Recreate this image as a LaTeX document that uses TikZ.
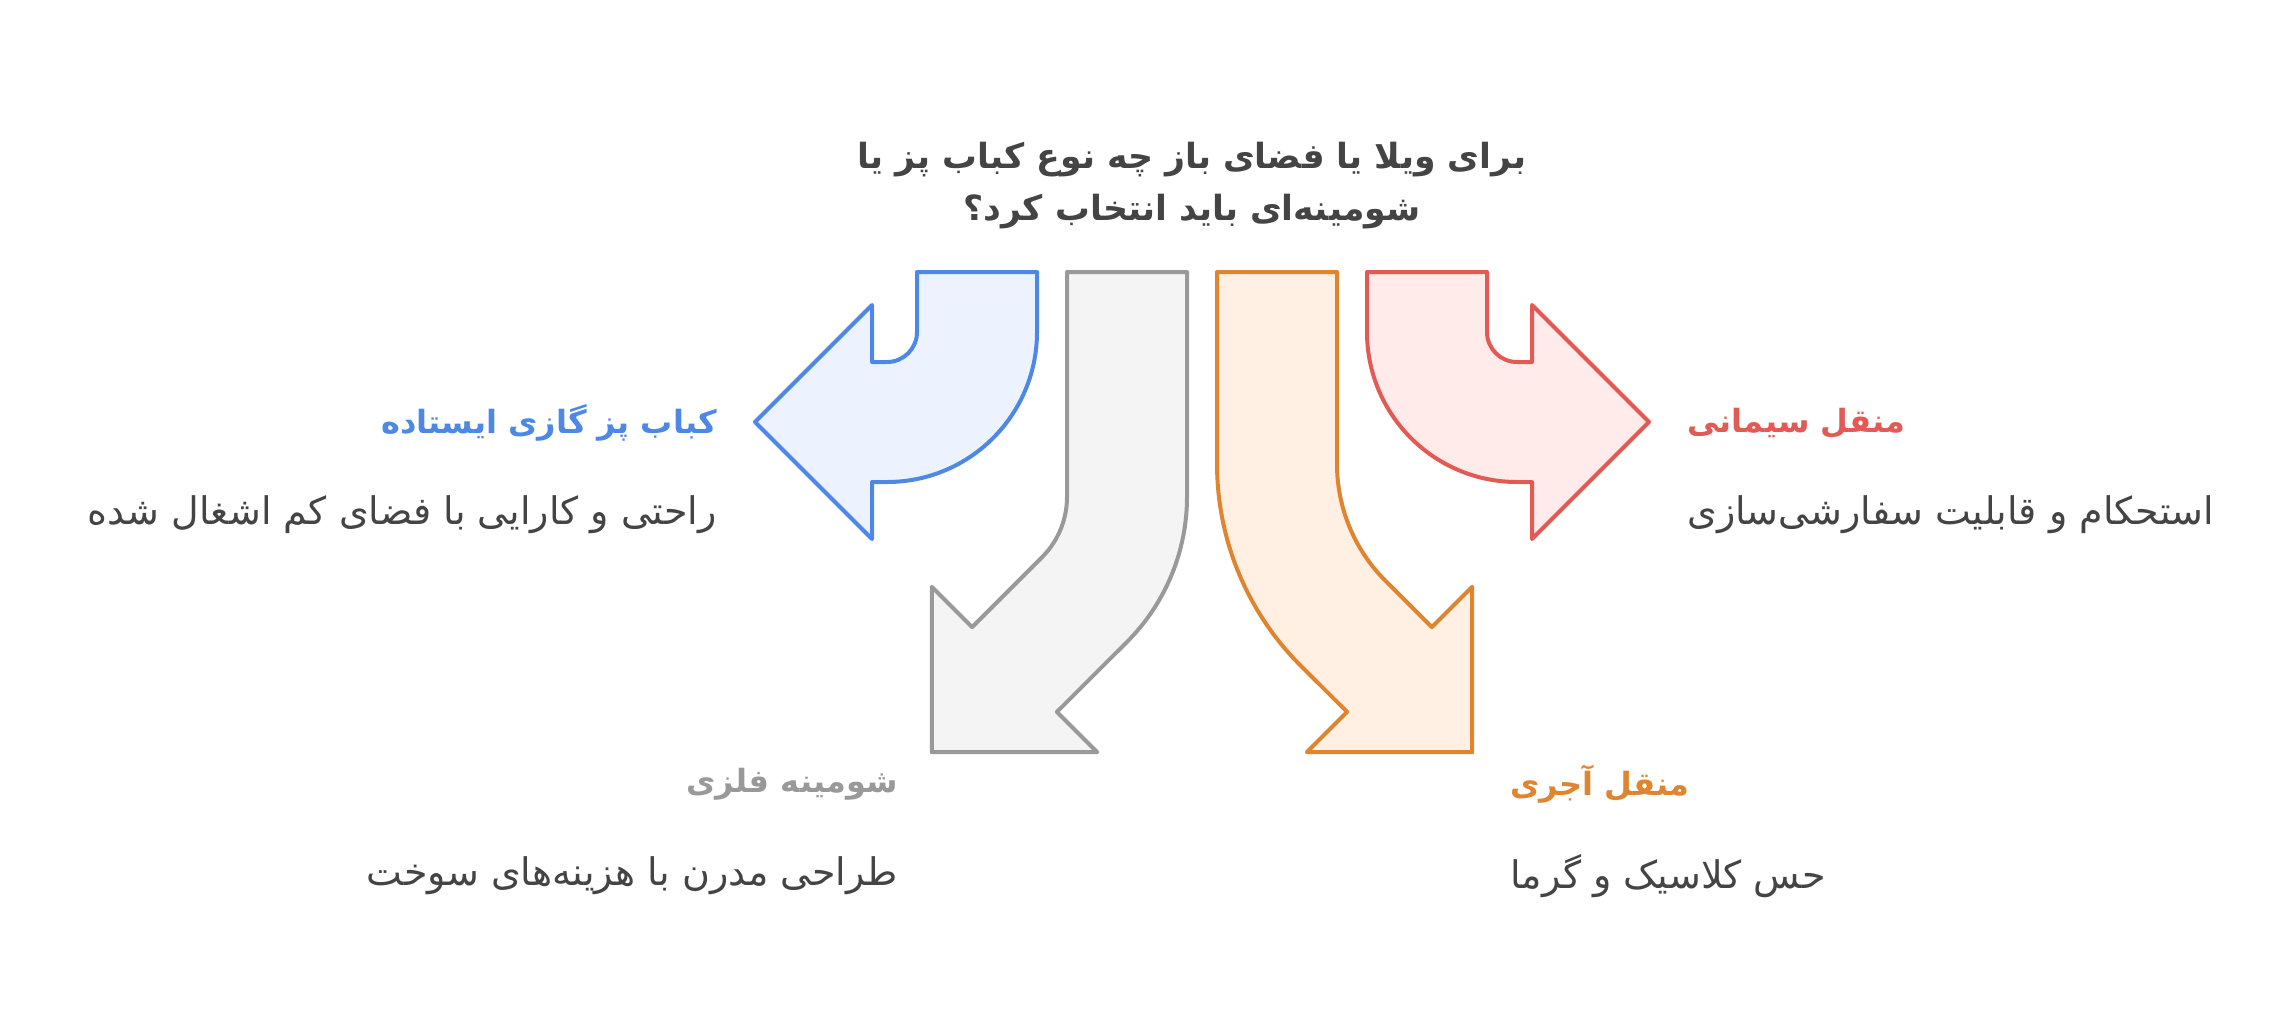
\documentclass[tikz,border=0pt]{standalone}
\usepackage{fontspec}
\usepackage{xcolor}
\usetikzlibrary{positioning}
\TeXXeTstate=1
\newfontfamily\arabicfont[Script=Arabic]{DejaVu Sans}
\definecolor{darktext}{HTML}{444444}
\definecolor{gasline}{HTML}{4E88E6}
\definecolor{gasfill}{HTML}{ECF3FE}
\definecolor{metalline}{HTML}{999999}
\definecolor{metalfill}{HTML}{F4F4F4}
\definecolor{brickline}{HTML}{E0852F}
\definecolor{brickfill}{HTML}{FFF0E3}
\definecolor{cementline}{HTML}{E35A55}
\definecolor{cementfill}{HTML}{FFEBEA}
\tikzset{
        bentarrow/.style={line width=3pt, line join=round},
        gasarrow/.style={bentarrow, draw=gasline, fill=gasfill},
        metalarrow/.style={bentarrow, draw=metalline, fill=metalfill},
        brickarrow/.style={bentarrow, draw=brickline, fill=brickfill},
        cementarrow/.style={bentarrow, draw=cementline, fill=cementfill},
        titletext/.style={font=\arabicfont\bfseries\fontsize{26}{39}\selectfont, text=darktext, align=center, inner sep=0pt},
        headtext/.style={font=\arabicfont\bfseries\fontsize{24}{29}\selectfont, inner sep=0pt},
        desctext/.style={font=\arabicfont\fontsize{28.5}{34}\selectfont, text=darktext, inner sep=0pt},
}

\begin{document}
\begin{tikzpicture}[x=0.75pt, y=-0.75pt]
      \useasboundingbox (0,0) rectangle (2285,1025);
      % TITLE
      \node[titletext] (title) at (1192,186) {\beginR برای ویلا یا فضای باز چه نوع کباب پز یا\endR\\\beginR شومینه‌ای باید انتخاب کرد؟\endR};

      % GAS GRILL (left)
      \draw[gasarrow] (917,272) -- (1037,272) -- (1037,332) arc[start angle=0, end angle=90, radius=150]
        -- (872,482) -- (872,539) -- (755,422) -- (872,305) -- (872,362) -- (887,362)
        arc[start angle=90, end angle=0, radius=30] -- cycle;
      \node[headtext, text=gasline, anchor=east] (gashead) at (717,423) {\beginR کباب پز گازی ایستاده\endR};
      \node[desctext, below=69pt of gashead.east, anchor=east] (gasdesc) {\beginR راحتی و کارایی با فضای کم اشغال شده\endR};

      % METAL FIREPLACE (down left)
      \draw[metalarrow] (1067,272) -- (1187,272) -- (1187,497) arc[start angle=0, end angle=45, radius=205]
        -- (1056.9,711.9) -- (1097.2,752.2) -- (931.8,752.2) -- (931.8,586.8) -- (972.1,627.1) -- (1042.1,557.1)
        arc[start angle=45, end angle=0, radius=85] -- cycle;
      \node[headtext, text=metalline, anchor=east] (metalhead) at (898,784) {\beginR شومینه فلزی\endR};
      \node[desctext, below=69pt of metalhead.east, anchor=east] (metaldesc) {\beginR طراحی مدرن با هزینه‌های سوخت\endR};

      % BRICK GRILL (down right)
      \draw[brickarrow] (1217,272) -- (1337,272) -- (1337,464) arc[start angle=180, end angle=135, radius=165]
        -- (1431.9,627.1) -- (1472.2,586.8) -- (1472.2,752.2) -- (1306.8,752.2) -- (1347.1,711.9) -- (1300.5,665.5)
        arc[start angle=135, end angle=180, radius=285] -- cycle;
      \node[headtext, text=brickline, anchor=west] (brickhead) at (1510,784) {\beginR منقل آجری\endR};
      \node[desctext, below=69pt of brickhead.west, anchor=west] (brickdesc) {\beginR حس کلاسیک و گرما\endR};

      % CEMENT GRILL (right)
      \draw[cementarrow] (1367,272) -- (1487,272) -- (1487,332) arc[start angle=180, end angle=90, radius=30]
        -- (1532,362) -- (1532,305) -- (1649,422) -- (1532,539) -- (1532,482) -- (1517,482)
        arc[start angle=90, end angle=180, radius=150] -- cycle;
      \node[headtext, text=cementline, anchor=west] (cementhead) at (1687,423) {\beginR منقل سیمانی\endR};
      \node[desctext, below=69pt of cementhead.west, anchor=west] (cementdesc) {\beginR استحکام و قابلیت سفارشی‌سازی\endR};
\end{tikzpicture}
\end{document}
